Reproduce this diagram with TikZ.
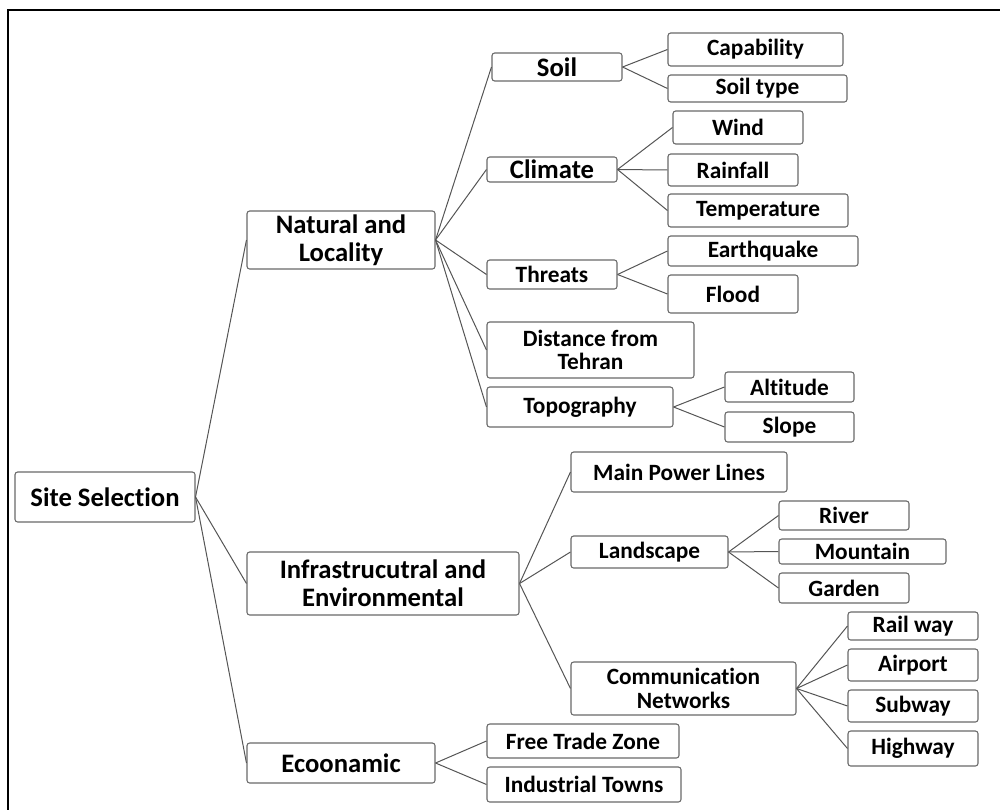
\documentclass[tikz,border=0pt]{standalone}
\usepackage{fontspec}
\setmainfont{Carlito}[Ligatures=NoCommon]
\definecolor{boxgray}{RGB}{105,105,105}
\definecolor{linegray}{RGB}{85,85,85}
\tikzset{
  box/.style={draw=boxgray, line width=0.8pt, rounded corners=2pt, fill=white,
    inner sep=0pt, align=center, font=\bfseries\fontsize{17.5}{17.5}\selectfont},
  bigbox/.style={box, font=\bfseries\fontsize{20}{21}\selectfont},
  sz/.style 2 args={minimum width=#1*0.75pt, minimum height=#2*0.75pt},
  link/.style={draw=linegray, line width=0.75pt}
}

\begin{document}
\begin{tikzpicture}[x=0.75pt,y=-0.75pt]
  \useasboundingbox (0,0) rectangle (1000,810);
  \draw [line width=1.6pt] (8,10) rectangle (1012,822);
  \path (105,497) node [bigbox, sz={180}{50}] (site) {Site Selection}
        (341,240) node [bigbox, sz={188}{58}] (natural) {Natural and\\Locality}
        (383,583.5) node [bigbox, sz={272}{63}] (infra) {Infrastrucutral and\\Environmental}
        (341,763) node [bigbox, sz={188}{40}] (econ) {Ecoonamic};
  \path (557,67) node [bigbox, sz={130}{28}] (soil) {Soil}
        (552,169.5) node [bigbox, sz={130}{25}] (climate) {Climate}
        (552,274.5) node [box, sz={130}{29}] (threats) {Threats}
        (590.5,350) node [box, sz={207}{56}] (distance) {Distance from\\Tehran}
        (580,407) node [box, sz={186}{40}] (topo) {Topography};
  \path (755.5,49.5) node [box, sz={175}{33}] (capab) {Capability}
        (757.5,88.5) node [box, sz={179}{27}] (soiltype) {Soil type}
        (738,127.5) node [box, sz={130}{33}] (wind) {Wind}
        (733,170) node [box, sz={130}{32}] (rain) {Rainfall}
        (758,210.5) node [box, sz={180}{33}] (temp) {Temperature}
        (763,251) node [box, sz={190}{30}] (quake) {Earthquake}
        (733,294) node [box, sz={130}{38}] (flood) {Flood}
        (789.5,387) node [box, sz={129}{30}] (altitude) {Altitude}
        (789.5,427) node [box, sz={129}{30}] (slope) {Slope};
  \path (679,472) node [box, sz={216}{40}] (power) {Main Power Lines}
        (649.5,552) node [box, sz={157}{32}] (land) {Landscape}
        (683.5,688.5) node [box, sz={225}{53}] (comm) {Communication\\Networks}
        (844,515.5) node [box, sz={130}{29}] (river) {River}
        (862.5,551.5) node [box, sz={167}{25}] (mountain) {Mountain}
        (844,588) node [box, sz={130}{30}] (garden) {Garden}
        (913,626) node [box, sz={130}{28}] (rail) {Rail way}
        (913,665) node [box, sz={130}{32}] (airport) {Airport}
        (913,706) node [box, sz={130}{32}] (subway) {Subway}
        (913,748.5) node [box, sz={130}{35}] (highway) {Highway};
  \path (583,741) node [box, sz={192}{34}] (freetrade) {Free Trade Zone}
        (584,784.5) node [box, sz={194}{35}] (industrial) {Industrial Towns};
  \draw [link] (site.east) to (natural.west);
  \draw [link] (site.east) to (infra.west);
  \draw [link] (site.east) to (econ.west);
  \draw [link] (natural.east) to (soil.west);
  \draw [link] (natural.east) to (climate.west);
  \draw [link] (natural.east) to (threats.west);
  \draw [link] (natural.east) to (distance.west);
  \draw [link] (natural.east) to (topo.west);
  \draw [link] (soil.east) to (capab.west);
  \draw [link] (soil.east) to (soiltype.west);
  \draw [link] (climate.east) to (wind.west);
  \draw [link] (climate.east) to (rain.west);
  \draw [link] (climate.east) to (temp.west);
  \draw [link] (threats.east) to (quake.west);
  \draw [link] (threats.east) to (flood.west);
  \draw [link] (topo.east) to (altitude.west);
  \draw [link] (topo.east) to (slope.west);
  \draw [link] (infra.east) to (power.west);
  \draw [link] (infra.east) to (land.west);
  \draw [link] (infra.east) to (comm.west);
  \draw [link] (land.east) to (river.west);
  \draw [link] (land.east) to (mountain.west);
  \draw [link] (land.east) to (garden.west);
  \draw [link] (comm.east) to (rail.west);
  \draw [link] (comm.east) to (airport.west);
  \draw [link] (comm.east) to (subway.west);
  \draw [link] (comm.east) to (highway.west);
  \draw [link] (econ.east) to (freetrade.west);
  \draw [link] (econ.east) to (industrial.west);
\end{tikzpicture}
\end{document}
